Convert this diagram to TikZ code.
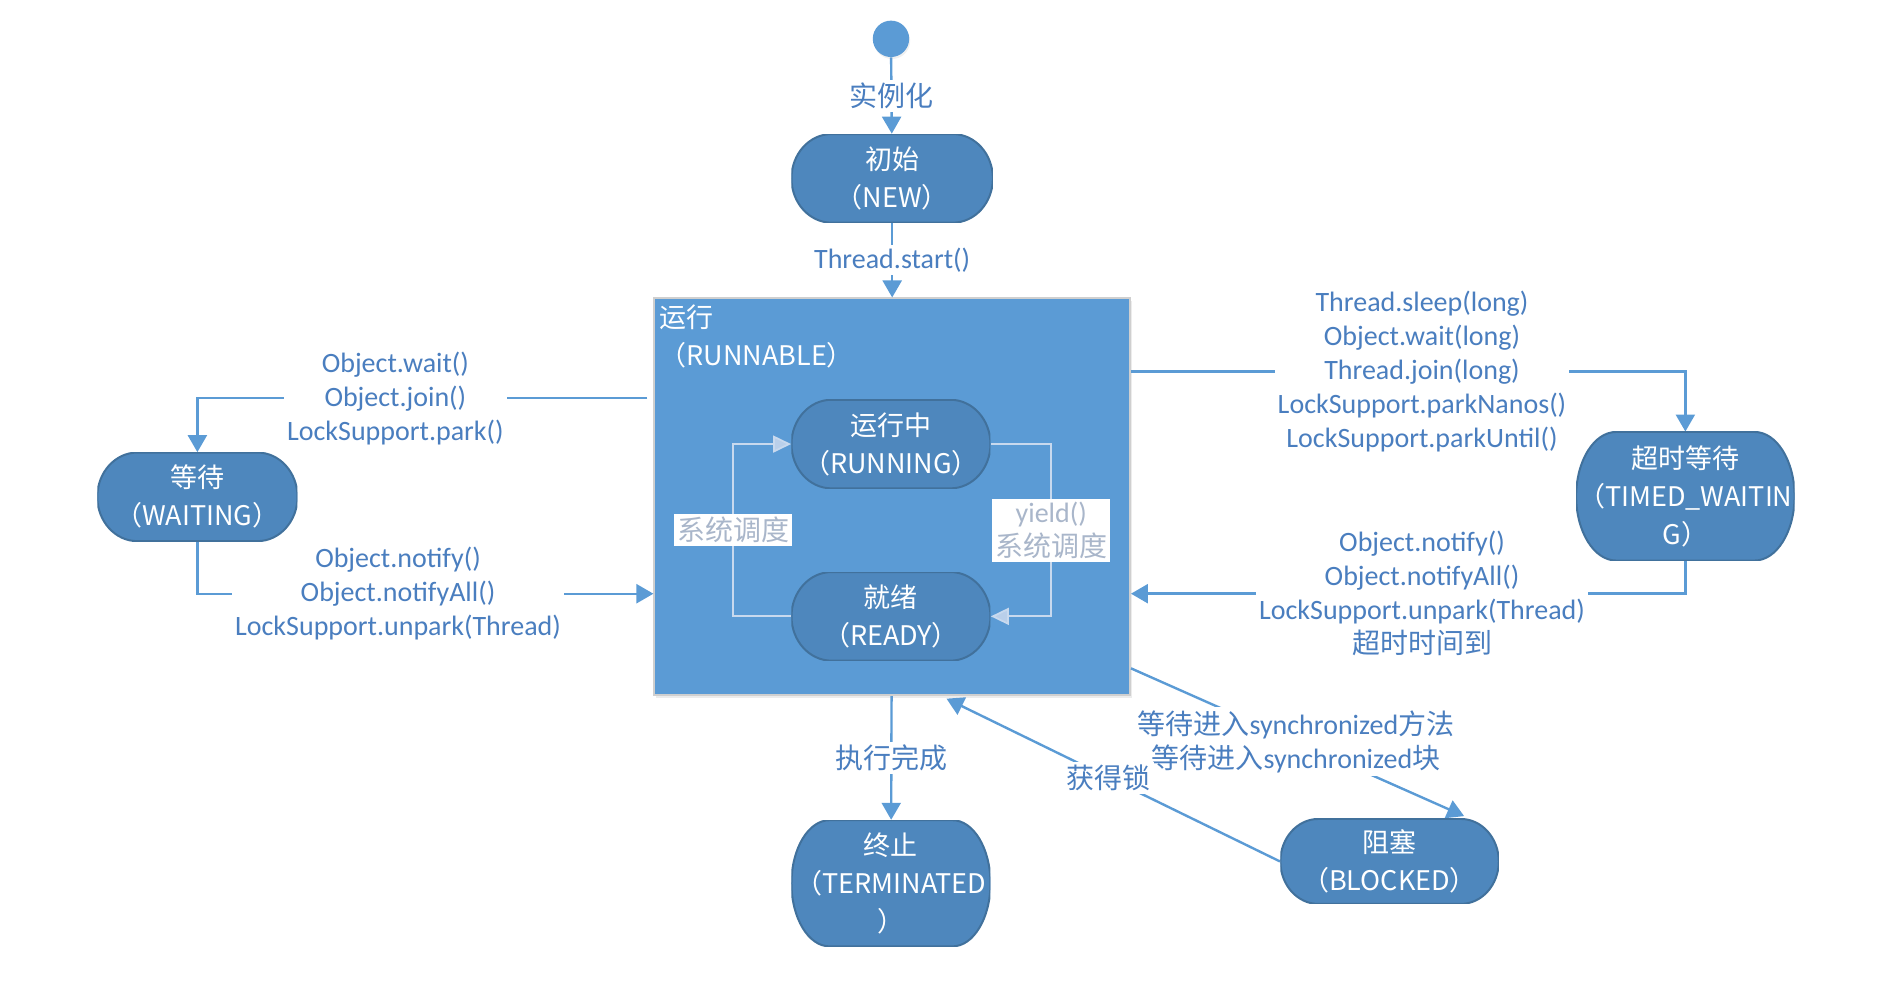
\documentclass[tikz,border=0pt]{standalone}
\usepackage{fontspec}
\setmainfont{Carlito}
\newfontfamily\cjk{Noto Sans CJK SC}
\usetikzlibrary{arrows.meta,calc,shadows}
\pgfdeclarelayer{fg}
\pgfsetlayers{main,fg}
\definecolor{boxblue}{HTML}{5B9BD5}
\definecolor{nodeblue}{HTML}{4E87BD}
\definecolor{nodeedge}{HTML}{41719C}
\definecolor{linec}{HTML}{5B9BD5}
\definecolor{labelc}{HTML}{4A7EBF}
\definecolor{loopc}{HTML}{C8D9EE}
\definecolor{looptip}{HTML}{B9CFEA}
\definecolor{looptext}{HTML}{A9B6CA}
\definecolor{boxedge}{HTML}{CFCFCF}
\newcommand\stfont{\cjk\fontsize{13.5pt}{19pt}\selectfont}
\newcommand\lblfont{\fontsize{14pt}{17pt}\selectfont}
\newcommand\zl[1]{\makebox[0pt]{#1}}
\begin{document}
\begin{tikzpicture}[x=0.6037pt,y=-0.6067pt,
  state/.style n args={3}{rectangle, inner sep=0pt, minimum width=#1, minimum height=#2,
    text=white, align=center, font=\stfont,
    path picture={
      \fill[nodeblue, draw=nodeedge, line width=1pt]
        ([xshift=#3]path picture bounding box.north west)
        -- ([xshift=-#3]path picture bounding box.north east)
        .. controls ([xshift={-(1-0.5523)*#3}]path picture bounding box.north east)
           and ([yshift={0.5523*#2/2}]path picture bounding box.east)
        .. (path picture bounding box.east)
        .. controls ([yshift={-0.5523*#2/2}]path picture bounding box.east)
           and ([xshift={-(1-0.5523)*#3}]path picture bounding box.south east)
        .. ([xshift=-#3]path picture bounding box.south east)
        -- ([xshift=#3]path picture bounding box.south west)
        .. controls ([xshift={(1-0.5523)*#3}]path picture bounding box.south west)
           and ([yshift={-0.5523*#2/2}]path picture bounding box.west)
        .. (path picture bounding box.west)
        .. controls ([yshift={0.5523*#2/2}]path picture bounding box.west)
           and ([xshift={(1-0.5523)*#3}]path picture bounding box.north west)
        .. cycle;
    }},
  lbl/.style={fill=white, text=labelc, align=center, inner sep=1.5pt, font=\lblfont},
  looplbl/.style={fill=white, text=looptext, align=center, inner sep=1.5pt, font=\lblfont},
  conn/.style={draw=linec, line width=1.2pt, -{Triangle[width=9.5pt,length=8.5pt]}},
  loopconn/.style={draw=loopc, line width=0.9pt, -{Triangle[width=8.5pt,length=9pt,fill=looptip]}},
]
\useasboundingbox (0,0) rectangle (1568,817.5);

% start point
\node[circle, fill=boxblue, minimum size=18.2pt, inner sep=0pt,
      drop shadow={shadow xshift=0.5pt, shadow yshift=-1pt, opacity=0.12}] (start) at (738,32) {};

% RUNNABLE container
\node[rectangle, fill=boxblue, draw=boxedge, line width=1pt, minimum width=237.8pt, minimum height=198.4pt,
      drop shadow={shadow xshift=1pt, shadow yshift=-1.5pt, opacity=0.15}] (runnable) at (739,409.5) {};
\node[anchor=north west, align=left, text=white, font=\stfont, inner sep=0pt] (runlabel) at (546,251) {运行\\（RUNNABLE）};

% states (drawn on the front layer)
\begin{pgfonlayer}{fg}
\node[state={100.7pt}{44.3pt}{20pt}] (new) at (739,147) {\zl{初始}\\\zl{（NEW）}};
\node[state={99.5pt}{44.3pt}{20pt}] (running) at (738,366) {\zl{运行中}\\\zl{（RUNNING）}};
\node[state={99.5pt}{44.3pt}{20pt}] (ready) at (738,508) {\zl{就绪}\\\zl{（READY）}};
\node[state={100.1pt}{44.3pt}{20pt}] (waiting) at (163.5,409.5) {\zl{等待}\\\zl{（WAITING）}};
\node[state={109.2pt}{64.3pt}{20pt}] (timed) at (1396,409) {\zl{超时等待}\\\zl{（TIMED\_WAITIN}\\\zl{G）}};
\node[state={99.5pt}{63.1pt}{19pt}] (terminated) at (738,728) {\zl{终止}\\\zl{（TERMINATED}\\\zl{）}};
\node[state={109.2pt}{42.5pt}{19pt}] (blocked) at (1151,710) {\zl{阻塞}\\\zl{（BLOCKED）}};
\end{pgfonlayer}

% connectors
\draw[conn] (start) -- node[lbl]{{\cjk 实例化}} (new);
\draw[conn] (new) -- node[lbl]{Thread.start()} (runnable);

\coordinate (wA) at ($(runnable.north west)+(-5,83)$);
\coordinate (wB) at (waiting.north |- wA);
\draw[conn] (wA) -- node[lbl, pos=0.56]{Object.wait()\\Object.join()\\LockSupport.park()} (wB) -- (waiting.north);

\coordinate (nB) at ($(waiting.south)+(0,43)$);
\coordinate (nC) at (runnable.west |- nB);
\draw[conn] (waiting.south) -- (nB) -- node[lbl, pos=0.44]{Object.notify()\\Object.notifyAll()\\LockSupport.unpark(Thread)} (nC);

\coordinate (tA) at ($(runnable.north east)+(0,61)$);
\coordinate (tB) at (timed.north |- tA);
\draw[conn] (tA) -- node[lbl, pos=0.525]{Thread.sleep(long)\\Object.wait(long)\\Thread.join(long)\\LockSupport.parkNanos()\\LockSupport.parkUntil()} (tB) -- (timed.north);

\coordinate (uB) at ($(timed.south)+(0,27)$);
\coordinate (uC) at (runnable.east |- uB);
\draw[conn] (timed.south) -- (uB) -- node[lbl, pos=0.475]{Object.notify()\\Object.notifyAll()\\LockSupport.unpark(Thread)\\{\cjk 超时时间到}} (uC);

\draw[conn] (runnable) -- node[lbl]{{\cjk 执行完成}} (terminated);

\coordinate (bA) at ($(runnable.south east)+(0,-23)$);
\coordinate (bB) at ($(blocked.north east)+(-29,-2)$);
\draw[conn] (bA) -- node[lbl, pos=0.495]{{\cjk 等待进入}synchronized{\cjk 方法}\\{\cjk 等待进入}synchronized{\cjk 块}} (bB);

\coordinate (gB) at ($(runnable.south)+(45,2)$);
\draw[conn] (blocked.west) -- node[lbl, pos=0.514]{{\cjk 获得锁}} (gB);

% inner loops
\draw[loopconn] (ready.west) -- ++(-48,0) |- node[looplbl, pos=0.25]{{\cjk 系统调度}} (running.west);
\draw[loopconn] (running.east) -- ++(50,0) |- node[looplbl, pos=0.25]{yield()\\{\cjk 系统调度}} (ready.east);
\end{tikzpicture}
\end{document}
